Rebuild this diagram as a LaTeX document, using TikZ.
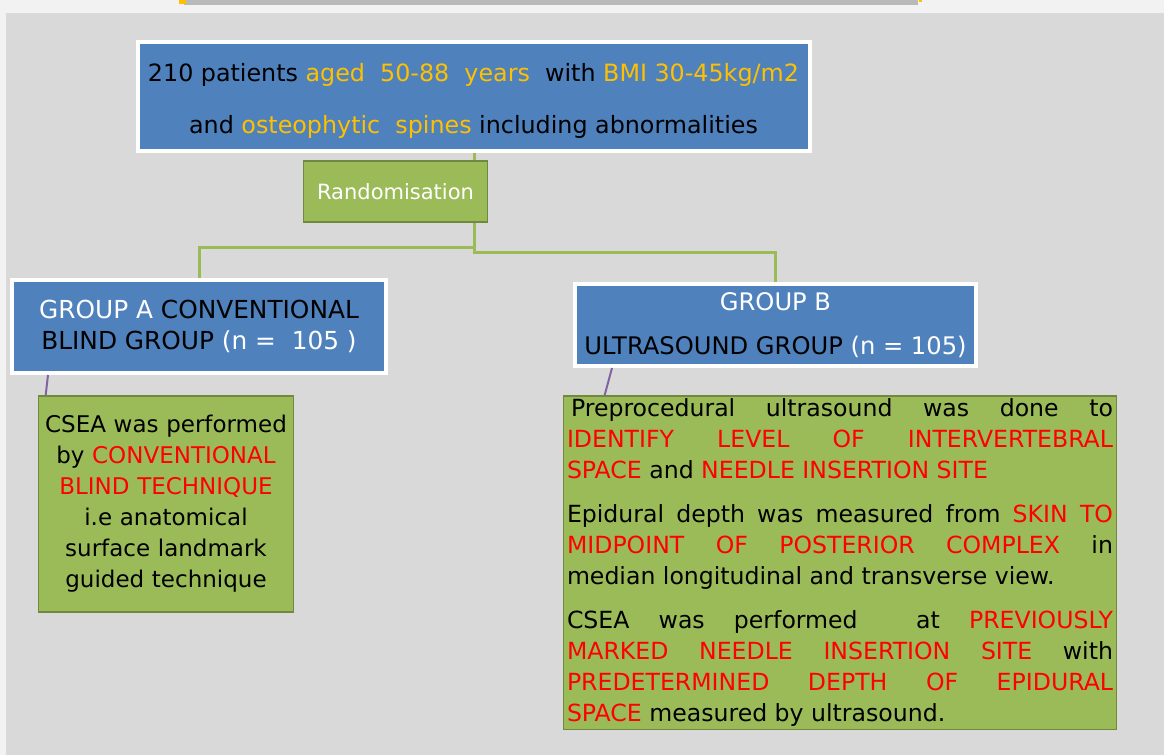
\documentclass[tikz,border=0pt]{standalone}
\usepackage{fontspec}
\setmainfont{DejaVu Sans}
\usepackage{xcolor}
\usetikzlibrary{positioning,shadows}
\definecolor{boxblue}{RGB}{79,129,189}
\definecolor{boxgreen}{RGB}{155,187,89}
\definecolor{greenedge}{RGB}{113,137,63}
\definecolor{linkpurple}{RGB}{128,100,162}
\definecolor{hiorange}{RGB}{255,192,0}
\definecolor{hired}{RGB}{255,0,0}
\definecolor{panelgray}{RGB}{217,217,217}
\definecolor{pagegray}{RGB}{242,242,242}
\newcommand{\hiO}[1]{\textcolor{hiorange}{#1}}
\newcommand{\hiR}[1]{\textcolor{hired}{#1}}
\newcommand{\hiW}[1]{\textcolor{white}{#1}}

\begin{document}
\begin{tikzpicture}[x=0.5pt, y=-0.5pt,
    bluebox/.style={rectangle, draw=white, line width=2pt, fill=boxblue, inner sep=2pt, align=center,
        drop shadow={opacity=0.25, shadow xshift=0.8pt, shadow yshift=-0.8pt}},
    greenbox/.style={rectangle, draw=greenedge, line width=0.8pt, fill=boxgreen, inner sep=1.5pt},
    branch/.style={draw=boxgreen, line width=1.5pt},
    link/.style={draw=linkpurple, line width=1pt}]

% backdrop
\useasboundingbox (0,0) rectangle (1164,755);
\fill[pagegray] (0,0) rectangle (1164,755);
\fill[panelgray] (6,13) rectangle (1164,755);
\fill[gray!55] (184,0) rectangle (918,5);
\fill[hiorange] (179,0) rectangle (186,4);
\fill[hiorange] (919,0) rectangle (922,2);

% boxes
\node[bluebox, minimum width=336pt, minimum height=54.5pt, font=\fontsize{11.9}{26}\selectfont] (cohort) at (473.5,96.5)
    {\rule{0pt}{13pt}210 patients \hiO{aged \ 50-88 \ years} \ with \hiO{BMI 30-45kg/m2}\\and \hiO{osteophytic \ spines} including abnormalities};
\node[greenbox, minimum width=92pt, minimum height=30.5pt, text=white, font=\fontsize{10.5}{12}\selectfont,
    below=3.5pt of cohort, xshift=-39pt] (rand) {Randomisation};

\node[bluebox, minimum width=187pt, minimum height=46.5pt, font=\fontsize{12.4}{15.5}\selectfont] (grpA) at (199,326.5)
    {\hiW{GROUP A} CONVENTIONAL\\BLIND GROUP \hiW{(n = \ 105 )}};
\node[bluebox, minimum width=200.5pt, minimum height=41pt, font=\fontsize{12.1}{22}\selectfont] (grpB) at (775.5,325)
    {\hiW{GROUP B}\\ULTRASOUND GROUP \hiW{(n = 105)}};

\node[greenbox, minimum width=127.5pt, minimum height=108pt, text width=124pt, align=center,
    font=\fontsize{11.5}{15.5}\selectfont, below=10pt of grpA, xshift=-16.5pt] (blindbox)
    {CSEA was performed\\by \hiR{CONVENTIONAL}\\\hiR{BLIND TECHNIQUE}\\i.e anatomical\\surface landmark\\guided technique};

\node[greenbox, minimum width=276.5pt, minimum height=166pt, text width=273pt, align=justify,
    font=\fontsize{11.8}{15.5}\selectfont, execute at begin node={\setlength{\parindent}{0pt}},
    below=13.5pt of grpB, xshift=32.25pt] (usbox)
    {\hspace{2pt}Preprocedural ultrasound was done to\linebreak
     \hiR{IDENTIFY LEVEL OF INTERVERTEBRAL}\linebreak
     \hiR{SPACE} and \hiR{NEEDLE INSERTION SITE}\par\vspace{6.5pt}
     Epidural depth was measured from \hiR{SKIN TO}\linebreak
     \hiR{MIDPOINT OF POSTERIOR COMPLEX} in\linebreak
     median longitudinal and transverse view.\par\vspace{6.5pt}
     CSEA was performed \ at \hiR{PREVIOUSLY}\linebreak
     \hiR{MARKED NEEDLE INSERTION SITE} with\linebreak
     \hiR{PREDETERMINED DEPTH OF EPIDURAL}\linebreak
     \hiR{SPACE} measured by ultrasound.};

% connectors
\coordinate (forkA) at (474,247);
\coordinate (forkB) at (474,252);
\draw[branch] (cohort.south -| forkA) -- (rand.north -| forkA);
\draw[branch] (rand.south -| forkB) -- (forkB) -| (grpB.north);
\draw[branch] (forkA) -| (grpA.north);
\draw[link] ([xshift=19pt]grpA.south west) -- ([xshift=4pt]blindbox.north west);
\draw[link] ([xshift=19.5pt]grpB.south west) -- ([xshift=21pt]usbox.north west);
\end{tikzpicture}
\end{document}
